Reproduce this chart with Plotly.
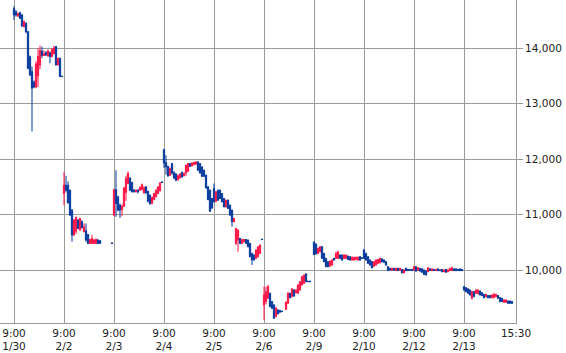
import plotly.graph_objects as go

# Each row: (open, high, low, close); None = no trade in that slot
day_labels = ["1/30", "2/2", "2/3", "2/4", "2/5", "2/6", "2/9", "2/10", "2/12", "2/13"]

d_0130 = [(14720,14760,14510,14600),(14660,14690,14570,14600),(14580,14640,14570,14630),(14640,14660,14530,14540),
          (14600,14620,14390,14400),(14390,14500,14380,14480),(14450,14470,14270,14300),(14300,14310,13620,13640),
          (13850,13870,13500,13520),(13580,13670,12500,13280),(13390,13420,13280,13300),(13300,13760,13280,13720),
          (13500,14000,13300,13850),(13700,14050,13620,13960),(13950,14030,13820,13870),(13870,13960,13860,13900),
          (13920,13950,13860,13880),(13860,13980,13850,13950),(13920,13940,13730,13850),(13850,14000,13840,13980),
          (13900,14040,13890,14010),(14030,14040,13690,13700),(13700,13830,13690,13820),(13820,13830,13480,13490),
          (13500,13500,13490,13490)]
d_0202 = [(11380,11770,11170,11530),(11530,11700,11400,11440),(11530,11600,11200,11210),(11440,11450,10980,10990),
          (11080,11100,10510,10630),(10630,10920,10620,10900),(10700,10960,10650,10950),(10900,10920,10740,10750),
          (10720,10940,10710,10930),(10870,10900,10750,10760),(10690,10840,10680,10780),(10710,10840,10510,10540),
          (10640,10650,10470,10480),(10480,10560,10470,10550),(10480,10630,10470,10570),(10480,10560,10470,10540),
          (10480,10570,10470,10550),(10540,10560,10470,10480),(10530,10540,10470,10480),None,None,None,None,None,
          (10490,10490,10480,10480)]
d_0203 = [(10990,11460,10970,11450),(11450,11800,10960,11200),(11320,11340,11060,11080),(11170,11200,10940,11080),
          (11090,11180,10970,11150),(11150,11500,11140,11480),(11400,11700,11250,11650),(11560,11780,11550,11740),
          (11660,11670,11430,11440),(11580,11590,11400,11410),(11440,11460,11400,11410),(11410,11450,11400,11440),
          (11440,11460,11380,11410),(11440,11510,11430,11490),(11450,11560,11440,11540),(11390,11510,11380,11480),
          (11500,11510,11380,11390),(11420,11430,11220,11240),(11350,11360,11170,11200),(11200,11320,11190,11310),
          (11270,11390,11260,11380),(11320,11450,11310,11440),(11380,11510,11370,11500),(11430,11580,11420,11570),
          (11590,11590,11570,11580)]
d_0204 = [(12170,12190,11840,11930),(11940,12070,11720,11860),(11870,11880,11680,11700),(11710,11850,11700,11830),
          (11920,11930,11720,11750),(11760,11780,11640,11660),(11730,11750,11600,11620),(11630,11720,11610,11700),
          (11660,11750,11650,11730),(11760,11780,11670,11680),(11700,11760,11690,11740),(11750,11900,11700,11890),
          (11780,11930,11770,11920),(11920,11930,11860,11870),(11880,11940,11870,11930),(11900,11950,11890,11940),
          (11910,11960,11900,11950),(11950,11960,11790,11800),(11920,11930,11740,11750),(11860,11870,11680,11690),
          (11800,11810,11680,11690),(11710,11720,11470,11480),(11500,11510,11260,11270),(11440,11450,11050,11060),
          (11290,11300,11100,11120)]
d_0205 = [(11470,11560,11220,11230),(11240,11420,11230,11410),(11440,11450,11250,11260),(11440,11450,11280,11290),
          (11380,11390,11220,11230),(11290,11300,11130,11140),(11140,11270,11130,11260),(11260,11270,11100,11110),
          (11170,11180,10980,10990),(11080,11090,10780,10870),(10870,10940,10860,10930),(10480,10760,10450,10750),
          (10540,10730,10330,10720),(10570,10580,10470,10480),(10480,10560,10470,10550),(10510,10560,10500,10550),
          (10550,10560,10470,10480),(10540,10550,10410,10420),(10480,10490,10230,10240),(10300,10310,10090,10180),
          (10270,10280,10170,10180),(10210,10370,10200,10360),(10240,10430,10230,10420),(10300,10460,10290,10450),
          (10560,10560,10550,10550)]
d_0206 = [(9370,9700,9100,9550),(9430,9700,9380,9610),(9490,9730,9480,9700),(9580,9590,9330,9340),
          (9430,9440,9300,9310),(9370,9380,9120,9130),(9160,9330,9150,9310),(9280,9290,9200,9210),
          (9270,9280,9230,9240),(9260,9260,9250,9250),None,(9290,9430,9280,9420),
          (9400,9600,9390,9580),(9580,9590,9490,9500),(9520,9670,9510,9660),(9640,9650,9520,9530),
          (9590,9650,9580,9640),(9580,9740,9570,9730),(9640,9800,9630,9790),(9730,9890,9720,9880),
          (9760,9920,9750,9910),(9930,9940,9780,9790),(9800,9800,9790,9790),(9800,9800,9790,9790),None]
d_0209 = [(10500,10520,10270,10280),(10470,10480,10280,10290),(10300,10400,10290,10390),(10330,10430,10320,10420),
          (10420,10430,10200,10210),(10300,10310,10140,10150),(10210,10220,10050,10060),(10150,10160,10050,10060),
          (10070,10170,10060,10160),(10090,10190,10080,10180),(10210,10220,10170,10180),(10210,10330,10200,10300),
          (10210,10340,10200,10330),(10270,10280,10200,10210),(10270,10280,10170,10180),(10210,10280,10200,10270),
          (10210,10280,10200,10270),(10250,10260,10180,10190),(10240,10250,10170,10180),(10180,10240,10170,10230),
          (10180,10240,10170,10230),(10190,10240,10180,10230),(10180,10240,10170,10230),(10240,10250,10170,10180),
          (10220,10220,10210,10210)]
d_0210 = [(10360,10380,10200,10210),(10300,10310,10170,10180),(10240,10250,10110,10120),(10180,10190,10080,10090),
          (10150,10160,10030,10040),(10070,10160,10060,10150),(10090,10190,10080,10180),(10120,10200,10110,10190),
          (10130,10220,10120,10210),(10200,10210,10140,10150),(10180,10190,10130,10140),(10150,10160,10080,10090),
          (10060,10070,9980,9990),(10030,10040,9990,10000),(10000,10040,9990,10030),(10030,10040,9990,10000),
          (9990,10040,9980,10030),(10030,10040,9980,9990),(10000,10040,9990,10030),(10010,10020,9940,9950),
          (9950,10010,9940,10000),(10030,10040,9980,9990),(10010,10020,9980,9990),(10010,10010,10000,10000),
          (10010,10020,9980,9990)]
d_0212 = [(10000,10070,9990,10060),(10060,10070,9970,9980),(10000,10050,9990,10040),(10030,10040,9970,9980),
          (10020,10030,9950,9960),(10000,10010,9910,9920),(9980,9990,9900,9910),(9970,10050,9960,10040),
          (10020,10030,9980,9990),(9990,10030,9980,10020),(10010,10020,9980,9990),(9990,10020,9980,10010),
          (10020,10030,9980,9990),(10000,10010,9980,9990),(10010,10020,9960,9970),(9970,10010,9960,10000),
          (10010,10020,9950,9960),(9970,10010,9960,10000),(9990,10040,9980,10030),(9990,10060,9980,10040),
          (10020,10030,9980,9990),(10020,10030,9980,9990),(10010,10020,9980,9990),(10020,10030,9980,9990),
          (10010,10020,9980,9990)]
d_0213 = [(9700,9710,9630,9640),(9680,9690,9600,9610),(9660,9670,9570,9580),(9640,9650,9540,9550),
          (9490,9620,9470,9610),(9610,9620,9510,9520),(9580,9650,9570,9640),(9570,9650,9560,9640),
          (9620,9630,9540,9550),(9590,9600,9530,9540),(9560,9570,9490,9500),(9520,9570,9510,9560),
          (9540,9550,9490,9500),(9540,9550,9490,9500),(9500,9560,9490,9550),(9500,9590,9490,9560),
          (9520,9570,9510,9560),(9540,9550,9480,9490),(9500,9510,9420,9430),(9490,9500,9420,9430),
          (9420,9470,9410,9460),(9420,9470,9410,9460),(9440,9450,9390,9400),(9440,9450,9390,9400),
          (9430,9440,9390,9400)]

days = [d_0130, d_0202, d_0203, d_0204, d_0205, d_0206, d_0209, d_0210, d_0212, d_0213]
SLOTS = 25  # bars per session

y_ticks = [10000, 11000, 12000, 13000, 14000]

xs, o, h, l, c = [], [], [], [], []
for d, rows in enumerate(days):
    for k, r in enumerate(rows):
        if r is None:
            continue
        xs.append(d * SLOTS + k)
        o.append(r[0]); h.append(r[1]); l.append(r[2]); c.append(r[3])

RED = "#ff1445"
BLUE = "#06389c"

fig = go.Figure(go.Candlestick(
    x=xs, open=o, high=h, low=l, close=c,
    increasing=dict(line=dict(color=RED, width=1), fillcolor=RED),
    decreasing=dict(line=dict(color=BLUE, width=1), fillcolor=BLUE),
    whiskerwidth=0, hoverinfo="skip",
))

tickvals = [d * SLOTS for d in range(len(days))] + [251]
ticktext = ["9:00<br>" + lab for lab in day_labels] + ["15:30"]

font = dict(family="DejaVu Sans", size=10.5, color="#222")
fig.update_layout(
    width=566, height=353,
    margin=dict(l=0, r=50, t=0, b=30),
    paper_bgcolor="white", plot_bgcolor="white",
    showlegend=False, boxgap=0.1,
    font=font,
    xaxis=dict(range=[-7, 251], tickvals=tickvals, ticktext=ticktext,
               showgrid=True, gridcolor="#9a9a9a", gridwidth=1,
               showline=True, linecolor="#9a9a9a", linewidth=1, mirror=True,
               ticks="", zeroline=False, rangeslider=dict(visible=False),
               tickfont=font, fixedrange=True),
    yaxis=dict(range=[9044, 14871], side="right", tickvals=y_ticks,
               ticktext=[f"{v:,}" for v in y_ticks],
               showgrid=True, gridcolor="#9a9a9a", gridwidth=1,
               showline=True, linecolor="#9a9a9a", linewidth=1,
               ticks="outside", ticklen=6, tickcolor="#9a9a9a", tickwidth=1,
               zeroline=False, tickfont=font, fixedrange=True),
)

fig.write_html("out.html", config={"displayModeBar": False})
